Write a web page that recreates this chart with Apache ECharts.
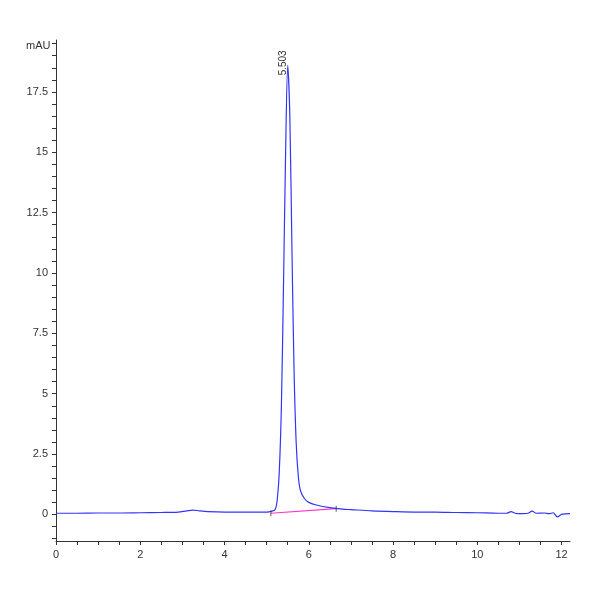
<!DOCTYPE html>
<html>
<head>
<meta charset="utf-8">
<script src="https://cdn.jsdelivr.net/npm/echarts@6/dist/echarts.min.js"></script>
<style>html,body{margin:0;background:#fff}#main{width:600px;height:600px}</style>
</head>
<body>
<div id="main"></div>
<script>
// 色谱图 - 数据
var timeMin = [0, 0.5, 1, 1.5, 2, 2.5, 2.9, 3.1, 3.25, 3.4, 3.6, 4, 4.5, 5, 5.1, 5.2, 5.25, 5.3, 5.35, 5.4, 5.45, 5.5, 5.55, 5.6, 5.65, 5.7, 5.75, 5.8, 5.9, 6, 6.2, 6.5, 6.8, 7, 7.5, 8, 8.5, 9, 9.5, 10, 10.5, 10.7, 10.8, 10.9, 11, 11.2, 11.3, 11.4, 11.6, 11.7, 11.8, 11.9, 12, 12.2];
var signal = [0.05, 0.05, 0.06, 0.06, 0.07, 0.08, 0.1, 0.15, 0.18, 0.15, 0.12, 0.1, 0.1, 0.1, 0.12, 0.2, 0.6, 1.8, 4.5, 9.5, 15, 18.6, 16.5, 11, 6, 3, 1.6, 1.0, 0.65, 0.5, 0.38, 0.28, 0.22, 0.2, 0.15, 0.12, 0.1, 0.1, 0.08, 0.07, 0.05, 0.05, 0.12, 0.05, 0.03, 0.05, 0.14, 0.05, 0.06, 0.03, 0.07, -0.1, 0.0, 0.03];
var baseLine = [[5.1, 0.05], [6.65, 0.24]];
var peakLabel = '5.503';
var peakTime = 5.503, peakHeight = 18.6;
var xTicks = [0, 2, 4, 6, 8, 10, 12];
var yTicks = [0, 2.5, 5, 7.5, 10, 12.5, 15, 17.5];

var minorX = [], minorY = [];
for (var i = 0; i <= 24; i++) minorX.push(i * 0.5);
for (var j = -2; j <= 39; j++) minorY.push(j * 0.5);

var chart = echarts.init(document.getElementById('main'));
var axisColor = '#333';
chart.setOption({
    animation: false,
    grid: { left: 56, right: 30, top: 40, bottom: 59 },
    xAxis: {
        type: 'value', min: 0, max: 12.2,
        axisLine: { onZero: false, lineStyle: { color: axisColor } },
        axisTick: { customValues: minorX, length: 4, lineStyle: { color: axisColor } },
        axisLabel: { customValues: xTicks, color: '#333', fontSize: 11, fontFamily: 'Liberation Sans Narrow, Liberation Sans' },
        splitLine: { show: false }
    },
    yAxis: {
        type: 'value', min: -1.1, max: 19.65,
        axisLine: { show: true, onZero: false, lineStyle: { color: axisColor } },
        axisTick: { show: true, customValues: minorY, length: 4, lineStyle: { color: axisColor } },
        axisLabel: { customValues: yTicks, color: '#333', fontSize: 11, fontFamily: 'Liberation Sans Narrow, Liberation Sans' },
        splitLine: { show: false }
    },
    graphic: [{
        type: 'text', left: 26, top: 40,
        style: { text: 'mAU', fill: '#333', fontSize: 11, fontFamily: 'Liberation Sans Narrow, Liberation Sans' }
    }],
    series: [{
        type: 'line', data: baseLine, symbol: 'none',
        lineStyle: { color: '#ff33cc', width: 1.2 }, z: 1
    }, {
        type: 'line', symbol: 'none', smooth: 0.3,
        data: timeMin.map(function (t, k) { return [t, signal[k]]; }),
        lineStyle: { color: '#3333ff', width: 1.2 }, z: 2,
        markPoint: {
            symbol: 'circle', symbolSize: 1,
            data: [{ coord: [peakTime, peakHeight] }],
            label: { show: true, formatter: peakLabel, rotate: 90, position: 'top', distance: 2,
                     color: '#333', fontSize: 10, fontFamily: 'Liberation Sans' }
        }
    }, {
        type: 'scatter', symbol: 'rect', symbolSize: [1, 6], data: baseLine,
        itemStyle: { color: '#333' }, z: 3
    }]
});
</script>
</body>
</html>
